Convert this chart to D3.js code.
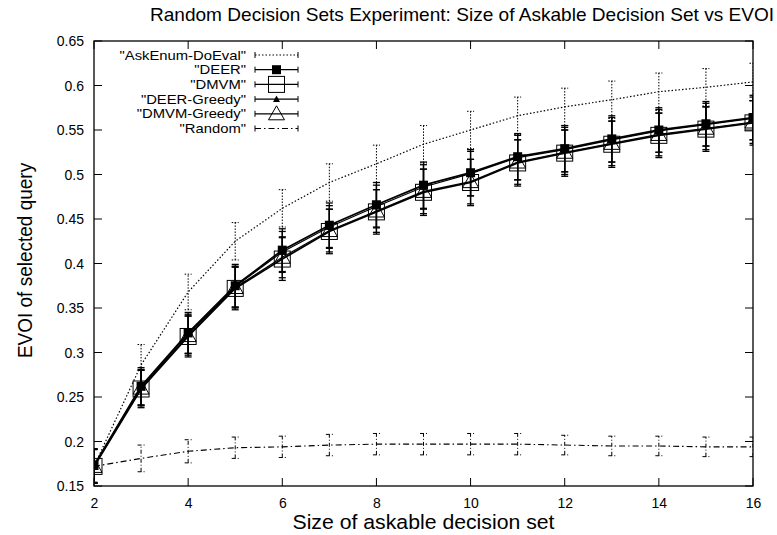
<!DOCTYPE html>
<html>
<head>
<meta charset="utf-8">
<script src="https://cdn.jsdelivr.net/npm/d3@7/dist/d3.min.js"></script>
<style>
  html, body { margin: 0; padding: 0; background: #fff; }
  svg { display: block; font-family: "Liberation Sans", Arial, Helvetica, sans-serif; }
</style>
</head>
<body>
<svg id="chart" width="777" height="535"></svg>
<script>
// Askable decision set sizes
const sizes = [2, 3, 4, 5, 6, 7, 8, 9, 10, 11, 12, 13, 14, 15, 16];

// Mean EVOI of the selected query for each method
const askEnumMean   = [0.172, 0.286, 0.368, 0.425, 0.462, 0.491, 0.512, 0.534, 0.550, 0.566, 0.576, 0.584, 0.593, 0.598, 0.604];
const deerMean      = [0.173, 0.262, 0.322, 0.375, 0.415, 0.443, 0.466, 0.488, 0.502, 0.520, 0.529, 0.540, 0.550, 0.557, 0.564];
const dmvmMean      = [0.172, 0.259, 0.318, 0.372, 0.405, 0.436, 0.458, 0.480, 0.491, 0.513, 0.524, 0.534, 0.544, 0.551, 0.558];
const deerGrMean    = [0.173, 0.261, 0.321, 0.374, 0.413, 0.441, 0.464, 0.486, 0.501, 0.519, 0.528, 0.539, 0.549, 0.556, 0.563];
const dmvmGrMean    = [0.172, 0.260, 0.319, 0.373, 0.407, 0.437, 0.459, 0.481, 0.492, 0.514, 0.525, 0.535, 0.545, 0.552, 0.559];
const randomMean    = [0.172, 0.181, 0.189, 0.193, 0.194, 0.196, 0.197, 0.197, 0.197, 0.197, 0.196, 0.195, 0.195, 0.194, 0.194];

// Error bar half-widths
const askEnumErr = [0.019, 0.023, 0.020, 0.021, 0.021, 0.021, 0.021, 0.021, 0.021, 0.021, 0.021, 0.021, 0.021, 0.021, 0.021];
const deerErr    = [0.019, 0.021, 0.023, 0.024, 0.024, 0.025, 0.025, 0.026, 0.026, 0.026, 0.026, 0.026, 0.025, 0.025, 0.025];
const dmvmErr    = [0.019, 0.021, 0.023, 0.024, 0.024, 0.025, 0.025, 0.026, 0.026, 0.026, 0.026, 0.026, 0.025, 0.025, 0.025];
const deerGrErr  = [0.019, 0.020, 0.022, 0.023, 0.023, 0.024, 0.024, 0.025, 0.025, 0.025, 0.025, 0.025, 0.024, 0.024, 0.024];
const dmvmGrErr  = [0.019, 0.020, 0.022, 0.023, 0.023, 0.024, 0.024, 0.025, 0.025, 0.025, 0.025, 0.025, 0.024, 0.024, 0.024];
const randomErr  = [0.019, 0.015, 0.013, 0.012, 0.012, 0.012, 0.012, 0.012, 0.012, 0.012, 0.011, 0.011, 0.011, 0.011, 0.011];

// Axis ticks
const xTicks = [2, 4, 6, 8, 10, 12, 14, 16];
const yTicks = [0.15, 0.2, 0.25, 0.3, 0.35, 0.4, 0.45, 0.5, 0.55, 0.6, 0.65];

const titleText = "Random Decision Sets Experiment: Size of Askable Decision Set vs EVOI";
const xLabel = "Size of askable decision set";
const yLabel = "EVOI of selected query";

const series = [
  { name: "\"AskEnum-DoEval\"", mean: askEnumMean, err: askEnumErr, dash: "1.5,2", width: 1.2, marker: "none" },
  { name: "\"DEER\"",           mean: deerMean,    err: deerErr,    dash: null,    width: 1.8, marker: "fsquare" },
  { name: "\"DMVM\"",           mean: dmvmMean,    err: dmvmErr,    dash: null,    width: 1.8, marker: "osquare" },
  { name: "\"DEER-Greedy\"",    mean: deerGrMean,  err: deerGrErr,  dash: null,    width: 1.2, marker: "ftri" },
  { name: "\"DMVM-Greedy\"",    mean: dmvmGrMean,  err: dmvmGrErr,  dash: null,    width: 1.2, marker: "otri" },
  { name: "\"Random\"",         mean: randomMean,  err: randomErr,  dash: "6,3,1.5,3", width: 1.1, marker: "none" }
];

// The whole figure is a little wider than tall in its lettering
const stretchX = 1.09;

const svg = d3.select("#chart");
const plot = { left: 94, right: 753, top: 41, bottom: 486 };

const x = d3.scaleLinear().domain([2, 16]).range([plot.left, plot.right]);
const y = d3.scaleLinear().domain([0.15, 0.65]).range([plot.bottom, plot.top]);

// Title
svg.append("g")
  .attr("transform", `translate(462,21) scale(${stretchX},1)`)
  .append("text")
  .attr("text-anchor", "middle")
  .attr("font-size", 17.5)
  .text(titleText);

// Axes: tick labels outside, tick marks inside, mirrored on top/right
const bottomAxis = d3.axisBottom(x).tickValues(xTicks).tickSize(0).tickPadding(12).tickFormat(d3.format("d"));
const leftAxis = d3.axisLeft(y).tickValues(yTicks).tickSize(0).tickPadding(10).tickFormat(d => d3.format("")(+d.toFixed(2)));

const gx = svg.append("g").attr("transform", `translate(0,${plot.bottom})`).call(bottomAxis);
gx.select(".domain").remove();
gx.selectAll("text").attr("font-size", 14).attr("fill", "#000").attr("font-family", "Liberation Sans, Arial, sans-serif");

const gy = svg.append("g").attr("transform", `translate(${plot.left},0)`).call(leftAxis);
gy.select(".domain").remove();
gy.selectAll("text").attr("font-size", 14).attr("fill", "#000").attr("font-family", "Liberation Sans, Arial, sans-serif").attr("dy", "0.35em");

const tickLen = 8;
const tickG = svg.append("g").attr("stroke", "#000").attr("stroke-width", 1);
xTicks.forEach(t => {
  tickG.append("line").attr("x1", x(t)).attr("x2", x(t)).attr("y1", plot.bottom).attr("y2", plot.bottom - tickLen);
  tickG.append("line").attr("x1", x(t)).attr("x2", x(t)).attr("y1", plot.top).attr("y2", plot.top + tickLen);
});
yTicks.forEach(t => {
  tickG.append("line").attr("x1", plot.left).attr("x2", plot.left + tickLen).attr("y1", y(t)).attr("y2", y(t));
  tickG.append("line").attr("x1", plot.right).attr("x2", plot.right - tickLen).attr("y1", y(t)).attr("y2", y(t));
});

// Axis titles
svg.append("g")
  .attr("transform", `translate(${(plot.left + plot.right) / 2},529) scale(${stretchX},1)`)
  .append("text")
  .attr("text-anchor", "middle").attr("font-size", 19.5)
  .text(xLabel);
svg.append("g")
  .attr("transform", `translate(32,${(plot.top + plot.bottom) / 2 - 3}) scale(${stretchX},1) rotate(-90)`)
  .append("text")
  .attr("text-anchor", "middle").attr("font-size", 19)
  .text(yLabel);

// Markers
function drawMarker(g, type, cx, cy) {
  if (type === "fsquare") {
    g.append("rect").attr("x", cx - 4.5).attr("y", cy - 4.5).attr("width", 9).attr("height", 9).attr("fill", "#000");
  } else if (type === "osquare") {
    g.append("rect").attr("x", cx - 8).attr("y", cy - 8).attr("width", 16).attr("height", 16)
      .attr("fill", "none").attr("stroke", "#000").attr("stroke-width", 1);
  } else if (type === "ftri") {
    const s = 3.5;
    g.append("path").attr("d", `M${cx},${cy - s}L${cx + s},${cy + s * 0.8}L${cx - s},${cy + s * 0.8}Z`).attr("fill", "#000");
  } else if (type === "otri") {
    const s = 8;
    g.append("path").attr("d", `M${cx},${cy - s}L${cx + s},${cy + s * 0.75}L${cx - s},${cy + s * 0.75}Z`)
      .attr("fill", "none").attr("stroke", "#000").attr("stroke-width", 1);
  }
}

const line = d3.line().x((d, i) => x(sizes[i])).y(d => y(d));
svg.append("defs").append("clipPath").attr("id", "plotclip")
  .append("rect").attr("x", plot.left).attr("y", plot.top)
  .attr("width", plot.right - plot.left).attr("height", plot.bottom - plot.top);

const dataG = svg.append("g").attr("clip-path", "url(#plotclip)");
const capHalf = 3.5;

series.forEach(s => {
  const g = dataG.append("g");
  // error bars
  s.mean.forEach((m, i) => {
    const cx = x(sizes[i]);
    const lo = y(m - s.err[i]), hi = y(m + s.err[i]);
    const eb = g.append("g").attr("stroke", "#000").attr("stroke-width", s.dash ? 1 : 1.3)
      .attr("stroke-dasharray", s.dash === "1.5,2" ? "1.5,1.5" : (s.dash ? "4,2,1,2" : null));
    eb.append("line").attr("x1", cx).attr("x2", cx).attr("y1", lo).attr("y2", hi);
    eb.append("line").attr("x1", cx - capHalf).attr("x2", cx + capHalf).attr("y1", lo).attr("y2", lo).attr("stroke-dasharray", null);
    eb.append("line").attr("x1", cx - capHalf).attr("x2", cx + capHalf).attr("y1", hi).attr("y2", hi).attr("stroke-dasharray", null);
  });
  // line
  g.append("path").attr("d", line(s.mean))
    .attr("fill", "none").attr("stroke", "#000").attr("stroke-width", s.width)
    .attr("stroke-dasharray", s.dash);
  // markers
  s.mean.forEach((m, i) => drawMarker(g, s.marker, x(sizes[i]), y(m)));
});

// Frame
svg.append("rect")
  .attr("x", plot.left).attr("y", plot.top)
  .attr("width", plot.right - plot.left).attr("height", plot.bottom - plot.top)
  .attr("fill", "none").attr("stroke", "#000").attr("stroke-width", 1.3);

// Legend
const legend = svg.append("g");
const legX1 = 255, legX2 = 298, legTextX = 246;
series.forEach((s, i) => {
  const ly = 55 + i * 14.7;
  legend.append("g")
    .attr("transform", `translate(${legTextX},${ly}) scale(1.14,1)`)
    .append("text")
    .attr("dy", "0.36em")
    .attr("text-anchor", "end").attr("font-size", 13)
    .text(s.name);
  const lg = legend.append("g").attr("stroke", "#000");
  lg.append("line").attr("x1", legX1).attr("x2", legX2).attr("y1", ly).attr("y2", ly)
    .attr("stroke-width", s.dash ? 1 : 1.3).attr("stroke-dasharray", s.dash);
  lg.append("line").attr("x1", legX1).attr("x2", legX1).attr("y1", ly - 3).attr("y2", ly + 3).attr("stroke-width", 1);
  lg.append("line").attr("x1", legX2).attr("x2", legX2).attr("y1", ly - 3).attr("y2", ly + 3).attr("stroke-width", 1);
  drawMarker(legend, s.marker, (legX1 + legX2) / 2, ly);
});
</script>
</body>
</html>
